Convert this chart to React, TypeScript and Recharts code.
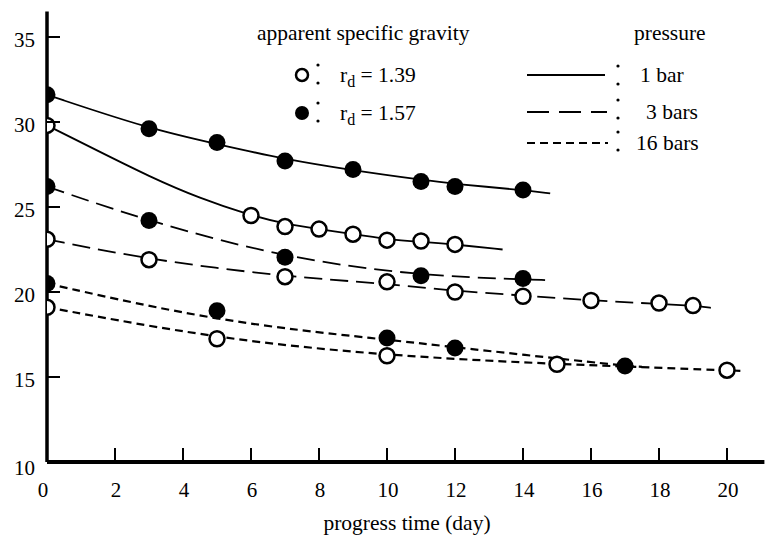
import { ComposedChart, Line, Scatter, XAxis, YAxis } from 'recharts';

// curves (fitted lines) — [day, value]
const curve1barDense: [number, number][] = [[0, 31.6], [3, 29.6], [5, 28.7], [7, 27.8], [9, 27.15], [11, 26.6], [12, 26.35], [14, 26.0], [14.8, 25.8]];
const curve1barLoose: [number, number][] = [[0, 29.8], [1.5, 28.3], [3, 26.8], [4.5, 25.5], [6, 24.5], [7, 24.0], [8, 23.7], [9, 23.4], [10, 23.1], [11, 22.95], [12, 22.8], [13.4, 22.5]];
const curve3barDense: [number, number][] = [[0, 26.2], [3, 24.15], [7, 22.0], [11, 20.95], [14, 20.75], [14.65, 20.7]];
const curve3barLoose: [number, number][] = [[0, 23.1], [3, 21.9], [7, 20.9], [10, 20.5], [12, 20.05], [14, 19.8], [16, 19.5], [18, 19.3], [19, 19.2], [19.6, 19.05]];
const curve16barDense: [number, number][] = [[0, 20.5], [5, 18.25], [10, 17.2], [12, 16.75], [17, 15.65], [17.5, 15.6]];
const curve16barLoose: [number, number][] = [[0, 19.1], [5, 17.25], [10, 16.25], [15, 15.75], [20, 15.4], [20.5, 15.35]];

// measured points
const dots1barDense: [number, number][] = [[0, 31.6], [3, 29.6], [5, 28.8], [7, 27.7], [9, 27.2], [11, 26.5], [12, 26.2], [14, 26.0]];
const dots1barLoose: [number, number][] = [[0, 29.8], [6, 24.5], [7, 23.85], [8, 23.7], [9, 23.4], [10, 23.05], [11, 23.0], [12, 22.8]];
const dots3barDense: [number, number][] = [[0, 26.2], [3, 24.2], [7, 22.05], [11, 20.95], [14, 20.8]];
const dots3barLoose: [number, number][] = [[0, 23.1], [3, 21.9], [7, 20.9], [10, 20.6], [12, 20.0], [14, 19.75], [16, 19.5], [18, 19.35], [19, 19.2]];
const dots16barDense: [number, number][] = [[0, 20.5], [5, 18.9], [10, 17.3], [12, 16.7], [17, 15.65]];
const dots16barLoose: [number, number][] = [[0, 19.1], [5, 17.25], [10, 16.25], [15, 15.75], [20, 15.4]];

const xTicks = [0, 2, 4, 6, 8, 10, 12, 14, 16, 18, 20];
const yTicks = [10, 15, 20, 25, 30, 35];

const FONT = '"Liberation Serif", "Times New Roman", serif';
const toXY = (arr: [number, number][]) => arr.map(([x, y]) => ({ x, y }));

const DASH_3 = '18 8';
const DASH_16 = '8 5';

function OpenDot(p: any) {
  return <circle cx={p.cx} cy={p.cy} r={7.5} fill="#fff" stroke="#000" strokeWidth={2.5} />;
}
function FilledDot(p: any) {
  return <circle cx={p.cx} cy={p.cy} r={8.5} fill="#000" />;
}

function YTick({ x, y, payload }: any) {
  const v = payload.value;
  return (
    <g>
      <text x={x - 12} y={y} dy={v === 10 ? 13 : 10} textAnchor="end" fontSize={21} fontFamily={FONT} fill="#000">{v}</text>
      {v > 10 && <line x1={x} x2={x + 13} y1={y} y2={y} stroke="#000" strokeWidth={2} />}
    </g>
  );
}

function XTick({ x, y, payload }: any) {
  const v = payload.value;
  return (
    <g>
      <text x={x + (v === 0 ? -4 : 1)} y={y + 35} textAnchor="middle" fontSize={21} fontFamily={FONT} fill="#000">{v}</text>
      {v > 0 && <line x1={x} x2={x} y1={y} y2={y - 14} stroke="#000" strokeWidth={2} />}
    </g>
  );
}

function Colon({ x, y }: { x: number; y: number }) {
  return (
    <g>
      <circle cx={x} cy={y} r={1.6} fill="#000" />
      <circle cx={x} cy={y + 18} r={1.6} fill="#000" />
    </g>
  );
}

function LegendOverlay() {
  const t = { fontFamily: FONT, fontSize: 21.5, fill: '#000' } as const;
  return (
    <svg width={766} height={538} style={{ position: 'absolute', left: 0, top: 0, pointerEvents: 'none' }}>
      <text x={257} y={40} {...t}>apparent specific gravity</text>
      <circle cx={302} cy={75} r={6} fill="#fff" stroke="#000" strokeWidth={2.5} />
      <Colon x={318} y={65} />
      <text x={340} y={82} {...t}>r<tspan fontSize={16} dy={5}>d</tspan><tspan dy={-5}> = 1.39</tspan></text>
      <circle cx={302} cy={113} r={7} fill="#000" />
      <Colon x={318} y={103} />
      <text x={340} y={120} {...t}>r<tspan fontSize={16} dy={5}>d</tspan><tspan dy={-5}> = 1.57</tspan></text>

      <text x={634} y={40} {...t}>pressure</text>
      <line x1={527} x2={605} y1={75} y2={75} stroke="#000" strokeWidth={1.8} />
      <Colon x={618} y={66} />
      <text x={640} y={82} {...t}>1 bar</text>
      <line x1={527} x2={607} y1={112} y2={112} stroke="#000" strokeWidth={1.8} strokeDasharray="22 10" />
      <Colon x={618} y={100} />
      <text x={646} y={119} {...t}>3 bars</text>
      <line x1={527} x2={608} y1={143} y2={143} stroke="#000" strokeWidth={2} strokeDasharray={DASH_16} />
      <Colon x={618} y={132} />
      <text x={636} y={150} {...t}>16 bars</text>

      <text x={407} y={530} textAnchor="middle" {...t}>progress time (day)</text>
    </svg>
  );
}

export default function App() {
  const lines: { data: [number, number][]; dash?: string; key: string }[] = [
    { data: curve1barDense, key: 'c1d' },
    { data: curve1barLoose, key: 'c1l' },
    { data: curve3barDense, dash: DASH_3, key: 'c3d' },
    { data: curve3barLoose, dash: DASH_3, key: 'c3l' },
    { data: curve16barDense, dash: DASH_16, key: 'c16d' },
    { data: curve16barLoose, dash: DASH_16, key: 'c16l' },
  ];
  return (
    <div style={{ position: 'absolute', left: 0, top: 0, width: 766, height: 538, background: '#fff' }}>
      <ComposedChart width={766} height={538} margin={{ top: 11.5, right: 1.6, left: 0, bottom: 0 }}>
        <XAxis
          type="number"
          dataKey="x"
          domain={[0, 21.1]}
          ticks={xTicks}
          height={76}
          tickSize={0}
          tickMargin={0}
          tickLine={false}
          tick={XTick}
          axisLine={{ stroke: '#000', strokeWidth: 4 }}
          allowDataOverflow
        />
        <YAxis
          type="number"
          dataKey="y"
          domain={[10, 36.5]}
          ticks={yTicks}
          width={47}
          tickSize={0}
          tickMargin={0}
          tickLine={false}
          tick={YTick}
          axisLine={{ stroke: '#000', strokeWidth: 3.5 }}
          allowDataOverflow
        />
        {lines.map((l) => (
          <Line
            key={l.key}
            data={toXY(l.data)}
            dataKey="y"
            type="basis"
            stroke="#000"
            strokeWidth={l.dash === DASH_16 ? 2.2 : 1.8}
            strokeDasharray={l.dash}
            dot={false}
            activeDot={false}
            isAnimationActive={false}
          />
        ))}
        <Scatter data={toXY(dots1barDense)} shape={FilledDot} isAnimationActive={false} />
        <Scatter data={toXY(dots3barDense)} shape={FilledDot} isAnimationActive={false} />
        <Scatter data={toXY(dots16barDense)} shape={FilledDot} isAnimationActive={false} />
        <Scatter data={toXY(dots1barLoose)} shape={OpenDot} isAnimationActive={false} />
        <Scatter data={toXY(dots3barLoose)} shape={OpenDot} isAnimationActive={false} />
        <Scatter data={toXY(dots16barLoose)} shape={OpenDot} isAnimationActive={false} />
      </ComposedChart>
      <LegendOverlay />
    </div>
  );
}
